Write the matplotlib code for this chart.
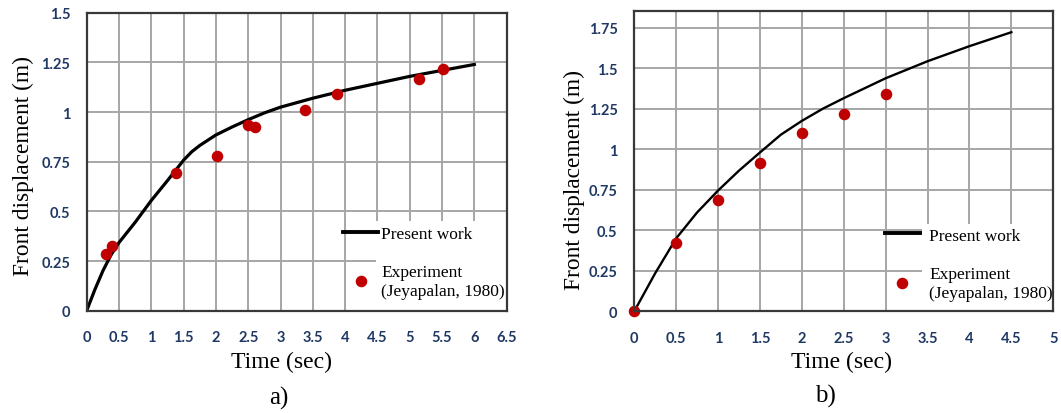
import matplotlib.pyplot as plt
from matplotlib.patches import Rectangle
from matplotlib.ticker import MultipleLocator

# Panel a) data
t_a = [0, 0.125, 0.25, 0.375, 0.5, 0.75, 1, 1.25, 1.5, 1.625, 1.75, 2, 2.25, 2.5, 2.75, 3, 3.5, 4, 4.5, 5, 5.5, 6]
disp_a = [0, 0.105, 0.2, 0.28, 0.343, 0.445, 0.555, 0.655, 0.758, 0.8, 0.832, 0.885, 0.925, 0.962, 0.996,
          1.025, 1.07, 1.11, 1.145, 1.18, 1.21, 1.24]
exp_t_a = [0.30, 0.39, 1.38, 2.01, 2.50, 2.61, 3.38, 3.88, 5.14, 5.52]
exp_d_a = [0.286, 0.328, 0.692, 0.78, 0.933, 0.925, 1.013, 1.089, 1.167, 1.219]

# Panel b) data
t_b = [0, 0.25, 0.5, 0.75, 1, 1.25, 1.5, 1.75, 2, 2.25, 2.5, 3, 3.5, 4, 4.5]
disp_b = [0, 0.235, 0.45, 0.61, 0.745, 0.868, 0.98, 1.09, 1.175, 1.25, 1.315, 1.438, 1.543, 1.636, 1.722]
exp_t_b = [0, 0.5, 1.0, 1.5, 2.0, 2.5, 3.0]
exp_d_b = [0, 0.424, 0.685, 0.913, 1.103, 1.216, 1.34]

tick_color = '#1f3864'
red = '#c00000'
serif = 'Liberation Serif'


def tick_fmt(v, pos):
    return ('%.2f' % v).rstrip('0').rstrip('.')


fig = plt.figure(figsize=(10.61, 4.14), dpi=100)
ax_a = fig.add_axes([0.0817, 0.2471, 0.3958, 0.7195])
ax_b = fig.add_axes([0.5978, 0.2457, 0.3949, 0.7261])

# ax, t, d, exp t, exp d, xmax, ymax, line width, tag,
# ylabel pos, xlabel pos, tag pos, legend anchor, legend pad, white box
panels = [
    (ax_a, t_a, disp_a, exp_t_a, exp_d_a, 6.5, 1.5, 2.3, 'a)',
     (-0.125, 0.49), (0.465, -0.135), (0.458, -0.29), (0.611, 0.286), 0.2, (0.69, 0.30)),
    (ax_b, t_b, disp_b, exp_t_b, exp_d_b, 5.0, 1.855, 1.7, 'b)',
     (-0.117, 0.44), (0.495, -0.132), (0.457, -0.28), (0.598, 0.279), 0.55, (0.686, 0.29)),
]

for (ax, t, d, et, ed, xmax, ymax, lw, tag,
     ylpos, xlpos, tagpos, legpos, htp, box) in panels:
    ax.plot(t, d, color='black', lw=lw, label='Present work', zorder=3)
    ax.plot(et, ed, 'o', color=red, ms=7.3, ls='none',
            label='Experiment\n(Jeyapalan, 1980)', zorder=4, clip_on=False)
    ax.set_xlim(0, xmax)
    ax.set_ylim(0, ymax)
    ax.xaxis.set_major_locator(MultipleLocator(0.5))
    ax.yaxis.set_major_locator(MultipleLocator(0.25))
    ax.xaxis.set_major_formatter(tick_fmt)
    ax.yaxis.set_major_formatter(tick_fmt)
    ax.grid(True, color='#a6a6a6', lw=1.4)
    ax.set_axisbelow(True)
    ax.tick_params(length=0, labelsize=10.5, labelcolor=tick_color)
    ax.tick_params(axis='x', pad=14)
    ax.tick_params(axis='y', pad=12)
    for lab in ax.get_xticklabels() + ax.get_yticklabels():
        lab.set_family('Lato')
        lab.set_fontweight('bold')
    for sp in ax.spines.values():
        sp.set_color('#383838')
        sp.set_linewidth(1.6)
        sp.set_zorder(6)
    ax.set_xlabel('Time (sec)', family=serif, fontsize=17)
    ax.set_ylabel('Front displacement (m)', family=serif, fontsize=16.8)
    ax.xaxis.set_label_coords(*xlpos)
    ax.yaxis.set_label_coords(*ylpos)
    ax.text(tagpos[0], tagpos[1], tag, transform=ax.transAxes, family=serif,
            fontsize=18, ha='center', va='center')
    # white area behind the legend text
    ax.add_patch(Rectangle((box[0], 0), 1 - box[0], box[1], transform=ax.transAxes,
                           facecolor='white', edgecolor='none', zorder=2))
    leg = ax.legend(loc='upper left', bbox_to_anchor=legpos,
                    prop={'family': serif, 'size': 12.5}, frameon=False,
                    handlelength=2.0, handletextpad=htp, labelspacing=1.3,
                    borderpad=0, borderaxespad=0)
    for txt in leg.get_texts():
        txt.set_multialignment('left')
    leg.get_lines()[0].set_linewidth(2.8)
    leg.set_zorder(5)

plt.savefig('out.png', dpi=100)
